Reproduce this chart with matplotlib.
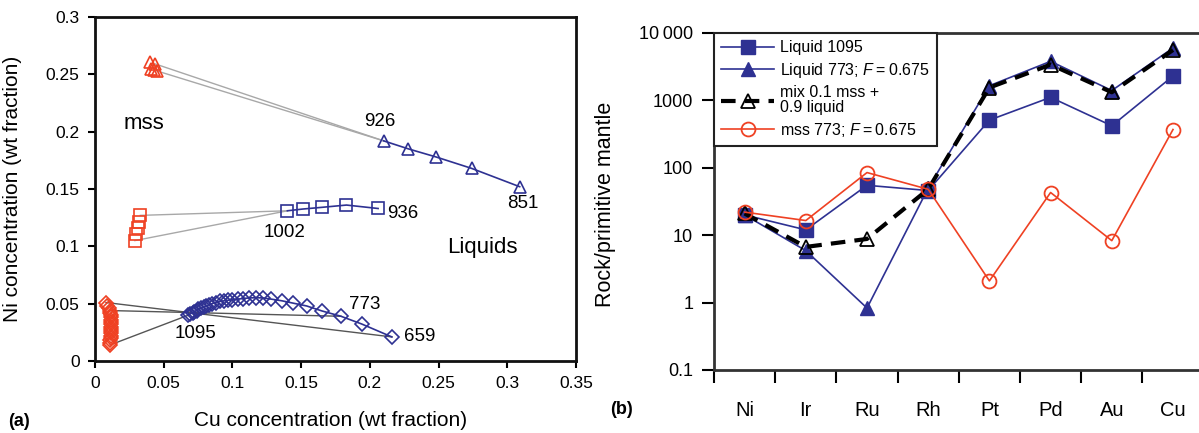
"""
Cu-Ni 液相/mss 分配 与 PGE 原始地幔标准化图
"""
import matplotlib
matplotlib.use('Agg')
import matplotlib.pyplot as plt
from matplotlib.ticker import FuncFormatter, FixedLocator, NullLocator

plt.rcParams['font.family'] = ['Liberation Sans', 'DejaVu Sans']
plt.rcParams['mathtext.fontset'] = 'custom'
plt.rcParams['mathtext.it'] = 'Liberation Sans:italic'
plt.rcParams['mathtext.rm'] = 'Liberation Sans'

NAVY = '#2e3192'
RED = '#ef4123'

# ---- (a) 数据 ----
liq_tri_x = [0.210, 0.228, 0.248, 0.274, 0.309]
liq_tri_y = [0.192, 0.185, 0.178, 0.168, 0.152]
mss_tri_x = [0.040, 0.044, 0.041, 0.043, 0.045]
mss_tri_y = [0.261, 0.259, 0.255, 0.254, 0.253]

liq_sq_x = [0.140, 0.151, 0.165, 0.183, 0.206]
liq_sq_y = [0.131, 0.1325, 0.134, 0.136, 0.133]
mss_sq_x = [0.033, 0.032, 0.031, 0.030, 0.029]
mss_sq_y = [0.127, 0.121, 0.116, 0.111, 0.105]

liq_dia_x = [0.068, 0.069, 0.071, 0.072, 0.074, 0.075, 0.077, 0.079, 0.081, 0.083,
             0.085, 0.088, 0.091, 0.094, 0.097, 0.100, 0.104, 0.108, 0.112, 0.117,
             0.122, 0.128, 0.136, 0.144, 0.154, 0.165, 0.179, 0.194, 0.216]
liq_dia_y = [0.040, 0.041, 0.042, 0.043, 0.044, 0.045, 0.046, 0.047, 0.048, 0.049,
             0.050, 0.051, 0.052, 0.0525, 0.053, 0.0535, 0.054, 0.0545, 0.055, 0.0552,
             0.055, 0.054, 0.0525, 0.0505, 0.048, 0.0437, 0.039, 0.0323, 0.021]
mss_dia_x = [0.008, 0.009, 0.010, 0.011, 0.011, 0.012, 0.012, 0.012, 0.012, 0.012,
             0.012, 0.012, 0.012, 0.012, 0.012, 0.012, 0.011, 0.011, 0.011]
mss_dia_y = [0.051, 0.048, 0.046, 0.044, 0.042, 0.040, 0.038, 0.036, 0.034, 0.032,
             0.030, 0.028, 0.026, 0.024, 0.022, 0.020, 0.018, 0.016, 0.014]

# 连线 (mss 索引, 液相索引)
tie_tri = [(1, 0), (4, 0)]
tie_sq = [(0, 0), (4, 0)]
tie_dia = [(0, 28), (3, 26), (18, 0)]

labels_a = [('926', 0.207, 0.209), ('851', 0.311, 0.137), ('1002', 0.138, 0.112),
            ('936', 0.224, 0.129), ('1095', 0.073, 0.024), ('773', 0.196, 0.049),
            ('659', 0.236, 0.021)]

# ---- (b) 数据 ----
elements = ['Ni', 'Ir', 'Ru', 'Rh', 'Pt', 'Pd', 'Au', 'Cu']
liq1095 = [20, 12, 55, 46, 510, 1110, 420, 2300]
liq773 = [20, 5.9, 0.83, 50, 1650, 3800, 1400, 6000]
mix = [21, 6.7, 8.8, 48, 1550, 3400, 1320, 5600]
mss773 = [22, 16.5, 85, 48, 2.1, 43, 8.3, 370]
yticks_b = [0.1, 1, 10, 100, 1000, 10000]
ytick_labels_b = ['0.1', '1', '10', '100', '1000', '10\u2009000']

fig = plt.figure(figsize=(11.99, 4.33), dpi=100)
W, H = 1199, 433

# ================= (a) =================
ax = fig.add_axes([95 / W, (H - 361) / H, 481 / W, 344 / H])
for i, j in tie_tri:
    ax.plot([mss_tri_x[i], liq_tri_x[j]], [mss_tri_y[i], liq_tri_y[j]], color='#a8a8a8', lw=1, zorder=1)
for i, j in tie_sq:
    ax.plot([mss_sq_x[i], liq_sq_x[j]], [mss_sq_y[i], liq_sq_y[j]], color='#a8a8a8', lw=1, zorder=1)
for i, j in tie_dia:
    ax.plot([mss_dia_x[i], liq_dia_x[j]], [mss_dia_y[i], liq_dia_y[j]], color='#555555', lw=1, zorder=1)

mk = dict(mfc='none', mew=1.2, zorder=3)
ax.plot(liq_tri_x, liq_tri_y, '-^', color=NAVY, ms=9, lw=1.2, **mk)
ax.plot(liq_sq_x, liq_sq_y, '-s', color=NAVY, ms=9, lw=1.2, **mk)
ax.plot(liq_dia_x, liq_dia_y, '-D', color=NAVY, ms=7, lw=1.2, **mk)
ax.plot(mss_tri_x, mss_tri_y, '^', color=RED, ms=9, **mk)
ax.plot(mss_sq_x, mss_sq_y, 's', color=RED, ms=9, **mk)
ax.plot(mss_dia_x, mss_dia_y, 'D', color=RED, ms=7, **mk)

for txt, x, y in labels_a:
    ax.text(x, y, txt, fontsize=13.5, ha='center', va='center')
ax.text(0.021, 0.207, 'mss', fontsize=16, ha='left', va='center')
ax.text(0.282, 0.099, 'Liquids', fontsize=16, ha='center', va='center')

ax.set_xlim(0, 0.35)
ax.set_ylim(0, 0.3)
ax.set_xticks([0, 0.05, 0.1, 0.15, 0.2, 0.25, 0.3, 0.35])
ax.set_yticks([0, 0.05, 0.1, 0.15, 0.2, 0.25, 0.3])
fmt = FuncFormatter(lambda v, p: '%g' % round(v, 3))
ax.xaxis.set_major_formatter(fmt)
ax.yaxis.set_major_formatter(fmt)
ax.tick_params(direction='out', length=5, width=1.5, labelsize=12.5, pad=6)
for s in ax.spines.values():
    s.set_linewidth(2)
    s.set_color('#111111')
ax.set_xlabel('Cu concentration (wt fraction)', fontsize=15)
ax.set_ylabel('Ni concentration (wt fraction)', fontsize=15)
ax.xaxis.set_label_coords(0.49, -0.145)
ax.yaxis.set_label_coords(-0.152, 0.5)
fig.text(8 / W, 1 - 421 / H, '(a)', fontsize=13, fontweight='bold', va='center')

# ================= (b) =================
bx = fig.add_axes([714 / W, (H - 370) / H, 8 * 61.2 / W, 337 / H])
xs = list(range(len(elements)))
bx.plot(xs, liq1095, '-s', color=NAVY, lw=1.2, ms=10, label='Liquid 1095', zorder=2)
bx.plot(xs, liq773, '-^', color=NAVY, lw=1.2, ms=10, label='Liquid 773; $F$\u2009=\u20090.675', zorder=3)
bx.plot(xs, mix, '--^', color='black', lw=3, dashes=(3.5, 2.2), ms=10, mfc='none', mec='black',
        mew=1.3, label='mix 0.1 mss +\n0.9 liquid', zorder=4)
bx.plot(xs, mss773, '-o', color=RED, lw=1.2, ms=10, mfc='none', mew=1.3,
        label='mss 773; $F$\u2009=\u20090.675', zorder=5)

bx.set_yscale('log')
bx.set_ylim(0.1, 10000)
bx.set_xlim(-0.5, 7.5)
bx.yaxis.set_major_locator(FixedLocator(yticks_b))
bx.yaxis.set_minor_locator(NullLocator())
bx.set_yticklabels(ytick_labels_b)
bx.set_xticks(xs)
bx.set_xticklabels(elements)
bx.set_xticks([x - 0.5 for x in xs] + [7.5], minor=True)
bx.tick_params(axis='x', which='major', length=0, labelsize=14.5, pad=22)
bx.tick_params(axis='x', which='minor', direction='out', length=9, width=1.5)
bx.tick_params(axis='y', direction='out', length=9, width=1.5, labelsize=13, pad=6)
for s in bx.spines.values():
    s.set_linewidth(2)
    s.set_color('#333333')
bx.set_ylabel('Rock/primitive mantle', fontsize=15.5)
bx.yaxis.set_label_coords(-0.2, 0.49)

leg = bx.legend(loc='upper left', bbox_to_anchor=(0, 1), borderaxespad=0, fontsize=11.5,
                fancybox=False, edgecolor='#222222', framealpha=1, handlelength=3.3,
                labelspacing=0.35, borderpad=0.45, handletextpad=0.4)
leg.get_frame().set_linewidth(1.5)
leg.get_texts()[2].set_linespacing(1.0)
fig.text(610 / W, 1 - 409 / H, '(b)', fontsize=13, fontweight='bold', va='center')

fig.savefig('out.png', dpi=100)
